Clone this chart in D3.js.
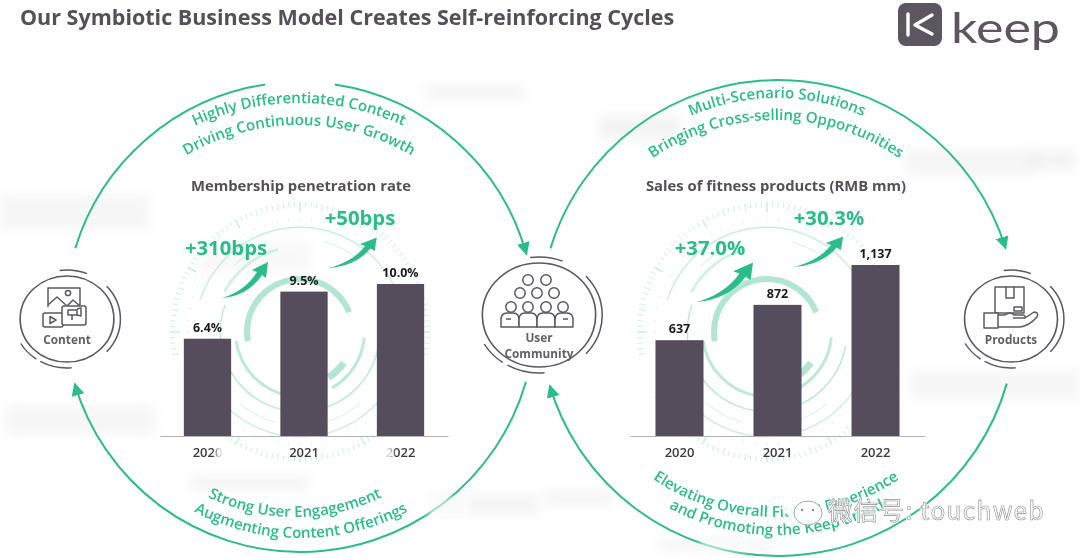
<!DOCTYPE html>
<html><head><meta charset="utf-8">
<script src="https://cdn.jsdelivr.net/npm/d3@7"></script>
<style>html,body{margin:0;padding:0;background:#fff}svg{display:block}text{font-family:"Open Sans",sans-serif}</style>
</head><body><svg id="c" width="1080" height="558"></svg>
<script>
const years = ["2020","2021","2022"];
const membershipRate = [6.4, 9.5, 10.0];
const membershipLabels = ["6.4%","9.5%","10.0%"];
const fitnessSales = [637, 872, 1137];
const fitnessLabels = ["637","872","1,137"];
const membershipGrowth = ["+310bps","+50bps"];
const fitnessGrowth = ["+37.0%","+30.3%"];
const GREEN="#2bbd8b", DARK="#574e5c", RING="#5b5860";
const svg=d3.select("#c");
const defs=svg.append("defs");
defs.append("filter").attr("id","b6").attr("x","-30%").attr("y","-60%").attr("width","160%").attr("height","220%").append("feGaussianBlur").attr("stdDeviation",6);
defs.append("filter").attr("id","b3").attr("x","-40%").attr("y","-60%").attr("width","180%").attr("height","220%").append("feGaussianBlur").attr("stdDeviation",2.5);
defs.append("filter").attr("id","soft").append("feGaussianBlur").attr("stdDeviation",0.4);
defs.append("marker").attr("id","ah").attr("viewBox","0 0 10 10").attr("refX",9).attr("refY",5).attr("markerWidth",13).attr("markerHeight",13).attr("markerUnits","userSpaceOnUse").attr("orient","auto")
  .append("path").attr("d","M0,0L10,5L0,10Z").attr("fill",GREEN);

const root=svg.append("g").attr("filter","url(#soft)");
const rad=d=>d*Math.PI/180;
const pt=(c,r,a)=>[c[0]+r*Math.sin(rad(a)),c[1]-r*Math.cos(rad(a))];
function arcD(c,r,a0,a1){const p=d3.path(),s=pt(c,r,a0);p.moveTo(s[0],s[1]);p.arc(c[0],c[1],r,rad(a0-90),rad(a1-90),a1<a0);return p.toString();}

// gauge backdrop
function gauge(cx,cy){
  const g=root.append("g").attr("transform",`translate(${cx},${cy})`);
  const arc=d3.arc();
  const add=(ri,ro,a0,a1,col,op)=>g.append("path").attr("d",arc({innerRadius:ri,outerRadius:ro,startAngle:rad(a0),endAngle:rad(a1)})).attr("fill",col).attr("opacity",op);
  const c="#9fe0c8";
  add(50,56,-100,68,c,.8); add(50,57,125,148,c,.8);
  add(63,66,95,150,c,.7); add(63,66,190,262,c,.7);
  add(79,80.5,100,172,c,.7); add(79,80.5,190,290,c,.7);
  add(84,87,-62,-15,c,.45);
  add(104,105.5,-72,70,c,.55); add(104,105.5,112,248,c,.5);
  add(93,94,-45,-25,c,.4); add(93,94,15,40,c,.4);add(93,94,140,165,c,.4);add(93,94,195,220,c,.4);
  d3.range(0,360,2.5).forEach(a=>{
    const skip=a>100&&a<118||a>242&&a<260; if(skip) return;
    const big=Math.round(a/2.5)%12===0, mid=Math.round(a/2.5)%4===0;
    const r0=big?120:(mid?123:125), r1=130;
    g.append("line").attr("x1",r0*Math.sin(rad(a))).attr("y1",-r0*Math.cos(rad(a))).attr("x2",r1*Math.sin(rad(a))).attr("y2",-r1*Math.cos(rad(a))).attr("stroke","#cdefe2").attr("stroke-width",big?1.6:1);
  });
  d3.range(0,360,6).forEach(a=>{
    const r0=111,r1=114;
    g.append("line").attr("x1",r0*Math.sin(rad(a))).attr("y1",-r0*Math.cos(rad(a))).attr("x2",r1*Math.sin(rad(a))).attr("y2",-r1*Math.cos(rad(a))).attr("stroke","#e2f6ee").attr("stroke-width",1);
  });
}
gauge(300,332); gauge(767,332);

// smudges
const smudges=[[0,195,150,35,.22],[5,405,150,30,.22],[425,85,100,15,.25],[1030,150,45,20,.3],[600,115,80,25,.3],[905,150,130,25,.25],[910,370,170,30,.22],[545,490,70,15,.25],[190,475,120,15,.25],[430,495,110,20,.25],[660,540,110,10,.3],[200,242,110,30,.18]];
smudges.forEach(s=>root.append("rect").attr("x",s[0]).attr("y",s[1]).attr("width",s[2]).attr("height",s[3]).attr("fill","#d9d9d9").attr("opacity",s[4]).attr("filter","url(#b6)"));

// large circulating arrows
const CL=[300,317],RL=235,CRc=[778,318],RR=238;
function big(c,r,a0,a1,arrow){const e=root.append("path").attr("d",arcD(c,r,a0,a1)).attr("fill","none").attr("stroke",GREEN).attr("stroke-width",2);if(arrow)e.attr("marker-end","url(#ah)");}
big(CL,RL,-73,-8.5,false); big(CL,RL,8.5,74.5,true); big(CL,RL,106,253.5,true);
big(CRc,RR,-73,73,true); big(CRc,RR,106,253.5,true);
// worn patches over the lower arcs
[[428,497,42,20],[700,540,50,12]].forEach(s=>root.append("rect").attr("x",s[0]).attr("y",s[1]).attr("width",s[2]).attr("height",s[3]).attr("fill","#fff").attr("opacity",.55).attr("filter","url(#b3)"));

// curved captions
let tid=0;
function curved(str,cx,cy,r,up,size){
  const id="tp"+(tid++);
  const d=up?arcD([cx,cy],r,-70,70):arcD([cx,cy],r,250,110);
  defs.append("path").attr("id",id).attr("d",d);
  root.append("text").attr("fill",GREEN).attr("font-size",size).attr("font-weight",600).attr("text-anchor","middle")
    .append("textPath").attr("href","#"+id).attr("startOffset","50%").text(str);
}
curved("Highly Differentiated Content",299,354,251,true,15.1);
curved("Driving Continuous User Growth",299,347,222,true,15.1);
curved("Strong User Engagement",295,318,199,false,15.1);
curved("Augmenting Content Offerings",301,309,229,false,15.1);
curved("Multi-Scenario Solutions",777,311,213,true,15.1);
curved("Bringing Cross-selling Opportunities",776,338,218,true,15.1);
curved("Elevating Overall Fitness Experience",776,299,218,false,15.1);
curved("and Promoting the Keep Brand",777,306,229,false,15.1);

// bar panels
function panel(o){
  const x=d3.scaleBand().domain(years).range(o.range).paddingInner(.51).paddingOuter(o.outer);
  const y=d3.scaleLinear().domain([0,o.max]).range([436,436-o.h]);
  const g=root.append("g");
  g.selectAll("rect").data(o.values).join("rect").attr("x",(d,i)=>x(years[i])).attr("y",d=>y(d)).attr("width",x.bandwidth()).attr("height",d=>436-y(d)).attr("fill",DARK);
  g.selectAll("text.v").data(o.values).join("text").attr("class","v").attr("x",(d,i)=>x(years[i])+x.bandwidth()/2).attr("y",d=>y(d)-7).attr("text-anchor","middle").attr("font-size",12.5).attr("font-weight",700).attr("fill","#1c1a1e").text((d,i)=>o.labels[i]);
  const ax=g.append("g").attr("transform","translate(0,436)").call(d3.axisBottom(x).tickSize(0).tickPadding(12));
  ax.select(".domain").attr("stroke","#b5b2b8").attr("stroke-width",1.2);
  ax.selectAll("text").attr("font-size",13).attr("font-weight",600).attr("fill","#3c3a3f").style("font-family",'"Open Sans",sans-serif');
  root.append("text").attr("x",o.titleX).attr("y",191).attr("text-anchor","middle").attr("font-size",14.8).attr("font-weight",700).attr("fill","#55505a").text(o.title);
  o.growth.forEach((t,i)=>{
    const [tx,ty,ax0,ay0,sx,sy]=o.growthPos[i];
    root.append("text").attr("x",tx).attr("y",ty).attr("text-anchor","middle").attr("font-size",20.3).attr("font-weight",700).attr("fill",GREEN).text(t);
    root.append("path").attr("transform",`translate(${ax0},${ay0}) scale(${sx},${sy})`).attr("fill",GREEN)
      .attr("d","M0,0C14,-4 27,-13 35,-26L30,-28L46,-36L44,-20L40,-23C31,-9 16,-1 0,0Z");
  });
}
panel({values:membershipRate,labels:membershipLabels,range:[160,448],outer:.247,max:10,h:152,title:"Membership penetration rate",titleX:301,growth:membershipGrowth,growthPos:[[226,255,222,298,1,1],[360,225,328,268,1.06,.85]]});
panel({values:fitnessSales,labels:fitnessLabels,range:[630,925],outer:.26,max:1137,h:171,title:"Sales of fitness products (RMB mm)",titleX:776,growth:fitnessGrowth,growthPos:[[710,255,696,302,1.24,1.1],[829,225,793,267,1.09,.85]]});
// blurred-out parts of two year labels
[[216,445,17,16],[383,445,10,16]].forEach(s=>root.append("rect").attr("x",s[0]).attr("y",s[1]).attr("width",s[2]).attr("height",s[3]).attr("fill","#fff").attr("opacity",.85).attr("filter","url(#b3)"));

// node rings
function node(cx,cy,r,sx,lines,base){
  const g=root.append("g").attr("transform",`translate(${cx},${cy}) scale(${sx},1)`).attr("fill","none").attr("stroke",RING).attr("stroke-width",1.4);
  g.append("circle").attr("r",r).attr("stroke-width",1.5);
  [[-8,22],[48,132],[175,210],[215,240]].forEach(a=>g.append("path").attr("d",arcD([0,0],r+6,a[0],a[1])));
  lines.forEach((t,i)=>root.append("text").attr("x",cx).attr("y",base+i*15.5).attr("text-anchor","middle").attr("font-size",11.8).attr("font-weight",700).attr("fill","#625e66").text(t));
}
node(67,319,43,1.09,["Content"],344);
node(539,315,52,1.09,["User","Community"],342);
node(1011,319,43,1.08,["Products"],344);

// icons
const ic=root.append("g").attr("fill","none").attr("stroke",RING).attr("stroke-width",1.5).attr("stroke-linejoin","round");
const content=ic.append("g").attr("transform","translate(65,318)");
content.append("path").attr("d","M-17,-11V-30H15V-13M-17,-13L-8,-21L2,-12L8,-18L15,-12");
content.append("circle").attr("cx",3).attr("cy",-25).attr("r",2.6);
content.append("rect").attr("x",-22).attr("y",-5).attr("width",20).attr("height",14).attr("rx",2).attr("fill","#fff");
content.append("path").attr("d","M-15,-1.5L-9,2L-15,5.5Z");
content.append("rect").attr("x",-3).attr("y",-12).attr("width",24).attr("height",19).attr("rx",2).attr("fill","#fff");
content.append("path").attr("d","M3,-8H12V-3H3ZM12,-9L16,-10V-2L12,-3M7,-3V2");

const com=ic.append("g").attr("transform","translate(537,315)");
[[-9,-35],[9,-35],[-17,-22],[0,-22],[17,-22],[-26,-8],[-9,-8],[9,-8],[26,-8]].forEach(h=>com.append("circle").attr("cx",h[0]).attr("cy",h[1]).attr("r",5.2).attr("fill","#fff"));
[-27,-9,9,27].forEach(b=>{
  const hw=9;
  com.append("path").attr("d",`M${b-hw},12V5Q${b-hw},-2 ${b-3},-2H${b+3}Q${b+hw},-2 ${b+hw},5V12Z`).attr("fill","#fff");
});
com.append("path").attr("d","M-31,4H-26M26,4H31");

const pr=ic.append("g").attr("transform","translate(1010,318)");
pr.append("rect").attr("x",-15).attr("y",-31).attr("width",29).attr("height",26);
pr.append("path").attr("d","M-4,-31V-20H4V-31");
pr.append("rect").attr("x",-26).attr("y",-5).attr("width",14).attr("height",15).attr("fill","#fff");
pr.append("path").attr("d","M-12,-3H-5Q1,-7 4,-3H12Q16,-3 15,0H3M15,0L24,-6Q29,-6 27,-1Q19,8 10,9H-12").attr("fill","#fff");
pr.append("rect").attr("x",4).attr("y",-11).attr("width",8).attr("height",4);

// header
root.append("text").attr("x",20).attr("y",25).attr("font-size",21.5).attr("font-weight",700).attr("fill","#55505a").text("Our Symbiotic Business Model Creates Self-reinforcing Cycles");
root.append("rect").attr("x",898).attr("y",3).attr("width",44).attr("height",43).attr("rx",8).attr("fill","#5d5560");
root.append("path").attr("d","M908,14V35M932,15L915,25L932,34").attr("fill","none").attr("stroke","#fff").attr("stroke-width",3.4).attr("stroke-linejoin","round").attr("stroke-linecap","round");
root.append("text").attr("x",951).attr("y",43).attr("font-size",43).attr("font-weight",400).attr("fill","#5d5560").style("font-family",'"Lato",sans-serif').attr("textLength",109).attr("lengthAdjust","spacingAndGlyphs").text("keep");

// watermark
const w=svg.append("g");
w.append("ellipse").attr("cx",797).attr("cy",505).attr("rx",15).attr("ry",13).attr("fill","#fff").attr("opacity",.9);
w.append("ellipse").attr("cx",808).attr("cy",513).attr("rx",14).attr("ry",12).attr("fill","#fff").attr("stroke","#a5a5a5").attr("stroke-width",1);
[[802,510],[813,510]].forEach(p=>w.append("circle").attr("cx",p[0]).attr("cy",p[1]).attr("r",1.2).attr("fill","#8a8a8a"));
const wmAttrs=s=>s.attr("x",828).attr("y",520).attr("font-size",24.5).style("font-family",'"Noto Sans CJK SC",sans-serif').attr("letter-spacing",1.3).text("微信号: touchweb");
w.append("text").call(wmAttrs).attr("fill","none").attr("stroke","#fff").attr("stroke-width",3).attr("opacity",.75);
w.append("text").call(wmAttrs).attr("fill","#fff").attr("stroke","#8d8d8d").attr("stroke-width",.6);
</script></body></html>
